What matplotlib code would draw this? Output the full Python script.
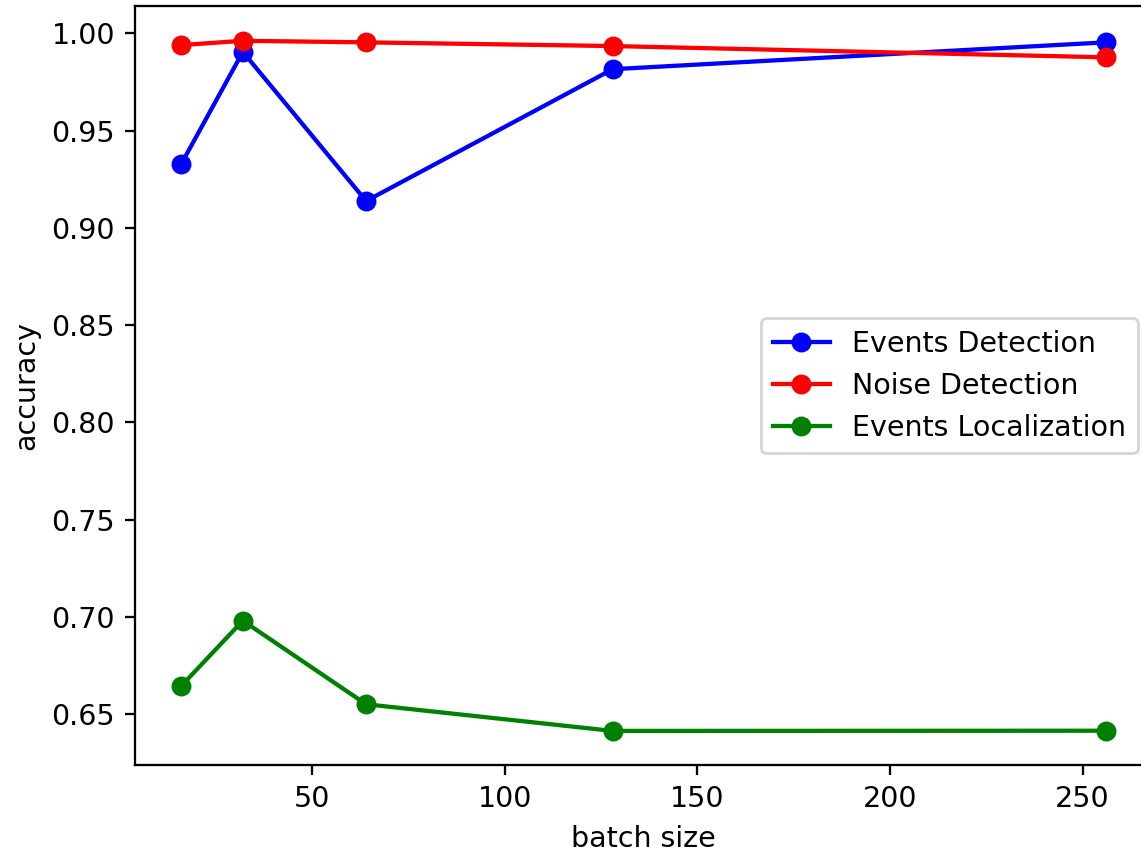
import matplotlib
matplotlib.use("Agg")
import matplotlib.pyplot as plt

# batch size vs accuracy
batch_sizes = [16, 32, 64, 128, 256]
events_detection = [0.9328, 0.9905, 0.9138, 0.9816, 0.9954]
noise_detection = [0.9940, 0.9962, 0.9954, 0.9935, 0.9877]
events_localization = [0.6644, 0.6980, 0.6550, 0.6413, 0.6414]

dpi = 205
fig = plt.figure(figsize=(1141 / dpi, 850 / dpi), dpi=dpi)
ax = fig.add_axes([0.1183, 0.0995, 0.8913, 0.8931])

ax.plot(batch_sizes, events_detection, marker='o', color='blue', label='Events Detection')
ax.plot(batch_sizes, noise_detection, marker='o', color='red', label='Noise Detection')
ax.plot(batch_sizes, events_localization, marker='o', color='green', label='Events Localization')

ax.set_xlabel("batch size")
ax.set_ylabel("accuracy")
ax.legend(loc='center right')

fig.savefig("out.png", dpi=dpi)
